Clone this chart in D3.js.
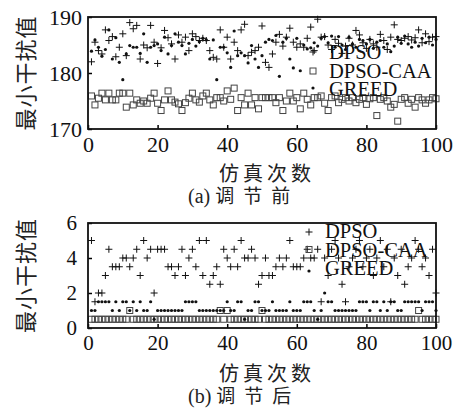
<!DOCTYPE html>
<html>
<head>
<meta charset="utf-8">
<script src="https://cdn.jsdelivr.net/npm/d3@7"></script>
<style>
  body { margin: 0; background: #fff; }
  svg { display: block; }
</style>
</head>
<body>
<script>
// data, index 1..100 (simulation run)
var runs = d3.range(1, 101);

// (a) before adjustment
var dpsoA = [182, 185.5, 184, 183.4, 187.7, 185.8, 186.5, 182.9, 184.6, 187,
  183.1, 189, 187.9, 188.5, 182.5, 185, 184.5, 188.5, 185.5, 181.7,
  184.5, 187.6, 186.3, 185.2, 182.5, 186.8, 185.5, 186.4, 184, 187,
  186.5, 185.8, 186.2, 185.8, 184, 182.8, 182.5, 187.7, 184.6, 186.4,
  182.5, 185.5, 184, 187.7, 188.7, 183.1, 183.7, 184, 184.6, 188.4,
  181.9, 181, 183.4, 185.5, 186.9, 184.8, 186.4, 188, 185.5, 184.6,
  185.2, 184.6, 186.2, 188.2, 184, 189.6, 186.4, 186.5, 185, 184.2,
  186, 185.3, 183.5, 184.8, 186.2, 185, 187.6, 186.8, 185.4, 184.4,
  186, 185.2, 184.6, 186.9, 185.8, 184.2, 186.4, 188.6, 186, 185.8,
  186.2, 186.5, 185.9, 186.3, 187.7, 185.4, 187, 185.6, 186.4, 186.5];
var caaA = [175.9, 174.3, 175.5, 176.4, 175.2, 176.4, 175.2, 175.2, 176.4, 176.4,
  173.9, 176.4, 174.3, 175.2, 174.6, 175, 174.6, 175.5, 176.4, 174.6,
  173.3, 175.2, 176.8, 175.2, 174.8, 174.5, 173.3, 174.7, 175.5, 176.4,
  175.2, 174.8, 175.9, 176.4, 175.2, 174.3, 175.6, 175.6, 175, 176.8,
  175.3, 177.3, 173.3, 175.6, 174.3, 176.4, 174.3, 175.6, 173.6, 175.6,
  175.6, 175.6, 175.6, 174.7, 175.6, 173.3, 175, 176.4, 175, 175.6,
  173.6, 176.4, 175.3, 174.3, 175.6, 175.6, 175.9, 174.6, 173.3, 175.6,
  175.9, 174.7, 175.3, 175.6, 175, 175.6, 174.7, 175.3, 175.6, 174.4,
  175.4, 175.6, 172.4, 175.3, 175.6, 175, 173.9, 174.4, 171.4, 175.3,
  175.6, 174.6, 175.3, 173.9, 175.6, 175.2, 174.6, 175.2, 175.6, 175.4];
var greedA = [183.9, 185.9, 184.6, 183, 184.2, 187.7, 182.5, 186.3, 181.9, 178.8,
  183.4, 184.9, 184.6, 184.6, 183.5, 187, 181.9, 184.6, 184.9, 185.2,
  184, 186.4, 183.4, 184.9, 187, 185.5, 184.9, 183.4, 185.3, 186,
  184.8, 185.6, 186.2, 185.9, 182.5, 185.9, 178.8, 184.6, 184.6, 183.6,
  181, 187.5, 183.1, 183.6, 183.1, 181.8, 184.9, 182.5, 181, 183.1,
  185.5, 186, 185.8, 186.7, 179.4, 185.5, 186.2, 182.5, 180.9, 186.2,
  180.4, 185, 184.3, 184.5, 185.4, 184.8, 186.2, 186.5, 185.4, 186.6,
  184.6, 186.5, 185, 184.2, 186.4, 185.2, 184.6, 186, 185.8, 185.2,
  186, 184.4, 185.5, 185.8, 184.6, 185.2, 183.8, 184.8, 186.4, 185.3,
  186.6, 185.2, 184.6, 185.5, 184.8, 186.2, 185.4, 186.4, 185, 186];

// (b) after adjustment
var dpsoB = [5, 1.5, 2, 2, 3, 4.5, 3.5, 3.5, 3.5, 4,
  4, 3.5, 4, 4.5, 3, 5, 4, 4.5, 2, 4.5,
  4.5, 4.5, 3.5, 3.5, 3, 3.5, 4.5, 3, 4, 4.5,
  3.5, 5, 3, 5, 2.5, 3, 3.5, 2.5, 4.5, 4,
  3.5, 4.5, 3.5, 5, 4, 4, 4.5, 4, 2.5, 3,
  4, 3, 3, 3.5, 4, 3.5, 4, 5, 3.5, 3.5,
  3.5, 4, 4.5, 4, 4, 4.5, 1.5, 4, 3, 4.5,
  5, 4, 2.5, 1.5, 3.5, 4, 4.5, 5, 3.5, 4,
  4.5, 3, 4, 5, 3.5, 4.5, 1.5, 4, 3, 4.5,
  2.5, 3.5, 4, 5, 4.5, 3.5, 4, 3, 4.5, 2];
var caaB = [0.5, 0.5, 0.5, 0.5, 0.5, 0.5, 0.5, 0.5, 0.5, 0.5,
  0.5, 1, 0.5, 0.5, 0.5, 0.5, 0.5, 0.5, 0.5, 0.5,
  0.5, 0.5, 0.5, 0.5, 0.5, 0.5, 0.5, 0.5, 0.5, 0.5,
  0.5, 0.5, 0.5, 0.5, 0.5, 0.5, 0.5, 1, 0.5, 1,
  0.5, 0.5, 0.5, 0.5, 0.5, 0.5, 0.5, 0.5, 0.5, 1,
  0.5, 0.5, 0.5, 0.5, 0.5, 0.5, 0.5, 0.5, 0.5, 0.5,
  0.5, 0.5, 0.5, 0.5, 0.5, 0.5, 0.5, 0.5, 0.5, 0.5,
  0.5, 0.5, 0.5, 0.5, 0.5, 0.5, 0.5, 0.5, 0.5, 0.5,
  0.5, 0.5, 0.5, 0.5, 0.5, 0.5, 0.5, 0.5, 0.5, 0.5,
  0.5, 0.5, 0.5, 0.5, 1, 0.5, 0.5, 0.5, 0.5, 0.5];
var greedB = [1, 1, 1.5, 1.5, 1.5, 1.5, 1, 1.5, 1, 1.5,
  1.5, 1, 1.5, 1, 1.5, 1, 1, 1.5, 0.5, 1,
  1, 1, 1, 1, 1, 1, 1, 1.5, 1.5, 1.5,
  1.5, 1, 1, 1, 1, 1, 1, 1, 1, 1.5,
  1, 1, 1.5, 1.5, 0.5, 1, 1, 1.5, 1.5, 1,
  1, 1, 1.5, 1, 1, 1, 1, 1.5, 1, 1,
  1, 1.5, 1.5, 1.5, 1, 0.5, 1, 2, 1.5, 1.5,
  1, 1, 1, 1, 1, 1, 1, 1.5, 1.5, 1.5,
  1, 1.5, 1.5, 1, 1.5, 1, 1.5, 1.5, 1, 1,
  1.5, 1.5, 1.5, 1.5, 1.5, 1, 1.5, 1.5, 1.5, 1];

var xTicks = [0, 20, 40, 60, 80, 100];
var yTicksA = [170, 180, 190];
var yTicksB = [0, 2, 4, 6];
var names = ["DPSO", "DPSO-CAA", "GREED"];

var serif = "'Liberation Serif', 'DejaVu Serif', serif";
var cjk = "'Noto Sans CJK SC', sans-serif";

var svg = d3.select("body").append("svg")
    .attr("width", 456)
    .attr("height", 416);

function panel(o) {
  var x = d3.scaleLinear().domain([0, 100]).range([o.left, o.right]);
  var y = d3.scaleLinear().domain(o.ydom).range([o.bottom, o.top]);
  var g = svg.append("g");

  // axes, ticks pointing inside
  var ax = g.append("g")
      .attr("transform", "translate(0," + o.bottom + ")")
      .call(d3.axisBottom(x).tickValues(xTicks).tickFormat(d3.format("d")).tickSize(-4).tickPadding(7));
  var ay = g.append("g")
      .attr("transform", "translate(" + o.left + ",0)")
      .call(d3.axisLeft(y).tickValues(o.yticks).tickFormat(d3.format("d")).tickSize(-4).tickPadding(o.ypad));
  [ax, ay].forEach(function(a) {
    a.select(".domain").remove();
    a.selectAll("line").attr("stroke", "#000").attr("stroke-width", 1.5);
    a.selectAll("text").attr("font-family", serif).attr("font-size", o.fs).attr("fill", "#111");
  });

  // DPSO-CAA squares
  g.append("g").selectAll("rect").data(runs).join("rect")
      .attr("x", function(d, i) { return x(d) - 3; })
      .attr("y", function(d, i) { return y(o.caa[i]) - 3; })
      .attr("width", 6).attr("height", 6)
      .attr("fill", "none").attr("stroke", "#444").attr("stroke-width", 1);

  // DPSO pluses
  g.append("g").selectAll("path").data(runs).join("path")
      .attr("d", function(d, i) {
        var px = x(d), py = y(o.dpso[i]);
        return "M" + (px - 3.5) + "," + py + "H" + (px + 3.5) + "M" + px + "," + (py - 3.5) + "V" + (py + 3.5);
      })
      .attr("stroke", "#111").attr("stroke-width", 1);

  // GREED dots
  g.append("g").selectAll("circle").data(runs).join("circle")
      .attr("cx", function(d) { return x(d); })
      .attr("cy", function(d, i) { return y(o.greed[i]); })
      .attr("r", 1.6).attr("fill", "#111");

  // frame
  g.append("rect")
      .attr("x", o.left).attr("y", o.top)
      .attr("width", o.right - o.left).attr("height", o.bottom - o.top)
      .attr("fill", "none").attr("stroke", "#111").attr("stroke-width", 1.8);

  // legend
  var lg = g.append("g");
  names.forEach(function(n, k) {
    lg.append("text")
        .attr("x", o.legX).attr("y", o.legY[k])
        .attr("font-family", serif).attr("font-size", 20.5).attr("fill", "#111")
        .text(n);
  });
  var mx = o.legX - 16;
  var m = o.legM;
  lg.append("path")
      .attr("d", "M" + (mx - 3.5) + "," + m[0] + "H" + (mx + 3.5) + "M" + mx + "," + (m[0] - 3.5) + "V" + (m[0] + 3.5))
      .attr("stroke", "#111").attr("stroke-width", 1);
  lg.append("rect").attr("x", mx - 3).attr("y", m[1] - 3).attr("width", 6).attr("height", 6)
      .attr("fill", "none").attr("stroke", "#444");
  lg.append("circle").attr("cx", mx).attr("cy", m[2]).attr("r", 1.6).attr("fill", "#111");

  // axis titles
  svg.append("text")
      .attr("transform", "translate(24," + ((o.top + o.bottom) / 2) + ") rotate(-90)")
      .attr("text-anchor", "middle").attr("dominant-baseline", "central")
      .attr("font-family", cjk).attr("font-size", 22).attr("letter-spacing", 1)
      .attr("fill", "#222")
      .text("最小干扰值");
  svg.append("text")
      .attr("x", 267).attr("y", o.xlabY)
      .attr("text-anchor", "middle")
      .attr("font-family", cjk).attr("font-size", 20).attr("letter-spacing", 4)
      .attr("fill", "#222")
      .text("仿真次数");
  var cap = svg.append("text")
      .attr("x", 188).attr("y", o.capY)
      .attr("fill", "#222");
  cap.append("tspan").attr("font-family", serif).attr("font-size", 20).text(o.cap[0] + " ");
  cap.append("tspan").attr("font-family", cjk).attr("font-size", 19).attr("letter-spacing", 9).text(o.cap[1]);
}

panel({
  left: 88, right: 436, top: 17, bottom: 129,
  ydom: [170, 190], yticks: yTicksA, ypad: 6, fs: 22,
  dpso: dpsoA, caa: caaA, greed: greedA,
  legX: 329, legY: [59, 77.5, 96], legM: [52, 71, 88],
  xlabY: 181, capY: 203, cap: ["(a)", "调节前"]
});

panel({
  left: 88, right: 436, top: 223, bottom: 328,
  ydom: [0, 6], yticks: yTicksB, ypad: 11, fs: 21,
  dpso: dpsoB, caa: caaB, greed: greedB,
  legX: 325, legY: [238, 256.5, 275], legM: [232, 249.5, 271],
  xlabY: 381, capY: 403, cap: ["(b)", "调节后"]
});
</script>
</body>
</html>
